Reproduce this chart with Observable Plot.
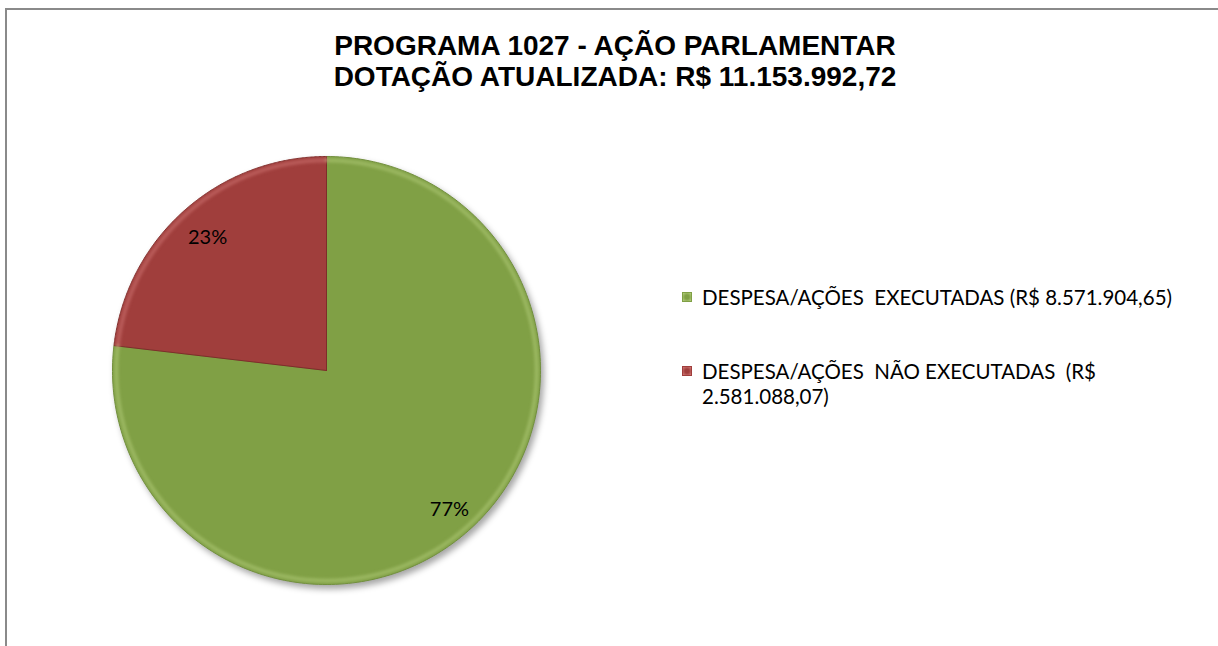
<!DOCTYPE html>
<html>
<head>
<meta charset="utf-8">
<script src="https://cdn.jsdelivr.net/npm/d3@7"></script>
<script src="https://cdn.jsdelivr.net/npm/@observablehq/plot@0.6"></script>
<style>
  html, body { margin: 0; padding: 0; background: #fff; }
  #wrap { position: relative; width: 1218px; height: 646px; overflow: hidden; background: #fff; }
  #frame { position: absolute; left: 5px; top: 8px; width: 1300px; height: 700px; border-top: 2px solid #8a8a8a; border-left: 2px solid #8a8a8a; }
  #chart { position: absolute; left: 0; top: 0; }
  .title { position: absolute; left: 0; width: 1230px; text-align: center; font-family: "Liberation Sans", Arial, sans-serif; font-weight: bold; font-size: 28px; color: #000; line-height: 31px; white-space: pre; }
  .leg { position: absolute; left: 702px; font-family: Lato, "Noto Sans", sans-serif; font-size: 20.5px; color: #000; white-space: pre; line-height: 25px; }
  .sw { position: absolute; left: 682px; width: 10px; height: 10px; box-sizing: border-box; }
</style>
</head>
<body>
<div id="wrap">
  <div id="frame"></div>
  <div id="chart"></div>
</div>
<script>
// ---- data ----
const titleLines = ["PROGRAMA 1027 - AÇÃO PARLAMENTAR", "DOTAÇÃO ATUALIZADA: R$ 11.153.992,72"];
const categories = ["DESPESA/AÇÕES  EXECUTADAS", "DESPESA/AÇÕES  NÃO EXECUTADAS"];
const legendLabels = ["DESPESA/AÇÕES  EXECUTADAS (R$ 8.571.904,65)", "DESPESA/AÇÕES  NÃO EXECUTADAS  (R$\n2.581.088,07)"];
const values = [8571904.65, 2581088.07];
const colors = ["#80A045", "#A03E3C"];
const rimColors = ["#B5D07E", "#D47A77"];

// ---- geometry built from data ----
const total = d3.sum(values);
const arcs = d3.pie().sort(null).value(d => d)(values);
const slicePts = [];
const rimPts = [];
const labels = [];
arcs.forEach((a, k) => {
  const cat = categories[k];
  const n = 240;
  slicePts.push({cat, x: 0, y: 0});
  for (let i = 0; i <= n; i++) {
    const t = a.startAngle + (a.endAngle - a.startAngle) * i / n;
    slicePts.push({cat, x: Math.sin(t), y: Math.cos(t)});
    rimPts.push({cat, x: 0.982 * Math.sin(t), y: 0.982 * Math.cos(t)});
  }
  slicePts.push({cat, x: 0, y: 0});
  const mid = (a.startAngle + a.endAngle) / 2;
  labels.push({cat, x: 0.85 * Math.sin(mid), y: 0.85 * Math.cos(mid), text: Math.round(a.value / total * 100) + "%"});
});

const plot = Plot.plot({
  width: 1218,
  height: 646,
  margin: 0,
  style: {background: "transparent", overflow: "visible"},
  x: {domain: [-1, 1], range: [112, 540], axis: null},
  y: {domain: [-1, 1], range: [584, 156], axis: null},
  color: {domain: categories, range: colors},
  marks: [
    Plot.line(slicePts, {x: "x", y: "y", z: "cat", fill: "cat", stroke: "cat", strokeWidth: 1, curve: "linear", className: "slices"}),
    Plot.line(rimPts, {x: "x", y: "y", z: "cat", stroke: d => rimColors[categories.indexOf(d.cat)], strokeWidth: 4, strokeOpacity: 0.5, className: "rims"}),
    Plot.text(labels, {x: "x", y: "y", text: "text", fill: "#000", fontSize: 20, dy: 3, dx: 2, fontFamily: "Lato, 'Noto Sans', sans-serif"})
  ]
});
document.getElementById("chart").appendChild(plot);
d3.select(plot).selectAll("g.slices").style("filter", "drop-shadow(3px 4px 3px rgba(0,0,0,0.35))");
d3.select(plot).selectAll("g.rims").style("filter", "blur(1.5px)");
d3.select(plot).selectAll("g.slices path").attr("stroke", function(d, i) { return i === 0 ? "#6E8C3A" : "#7E2C2A"; });

// ---- title ----
const wrap = document.getElementById("wrap");
titleLines.forEach((t, i) => {
  const el = document.createElement("div");
  el.className = "title";
  el.style.top = (30 + i * 31) + "px";
  el.textContent = t;
  wrap.appendChild(el);
});

// ---- legend ----
const legTops = [285, 359];
legendLabels.forEach((t, i) => {
  const sw = document.createElement("div");
  sw.className = "sw";
  sw.style.top = (legTops[i] + 7) + "px";
  sw.style.background = `radial-gradient(circle, ${colors[i]} 35%, ${rimColors[i]} 100%)`;
  sw.style.border = `1px solid ${colors[i]}`;
  wrap.appendChild(sw);
  const el = document.createElement("div");
  el.className = "leg";
  el.style.top = legTops[i] + "px";
  el.textContent = t;
  wrap.appendChild(el);
});
</script>
</body>
</html>
